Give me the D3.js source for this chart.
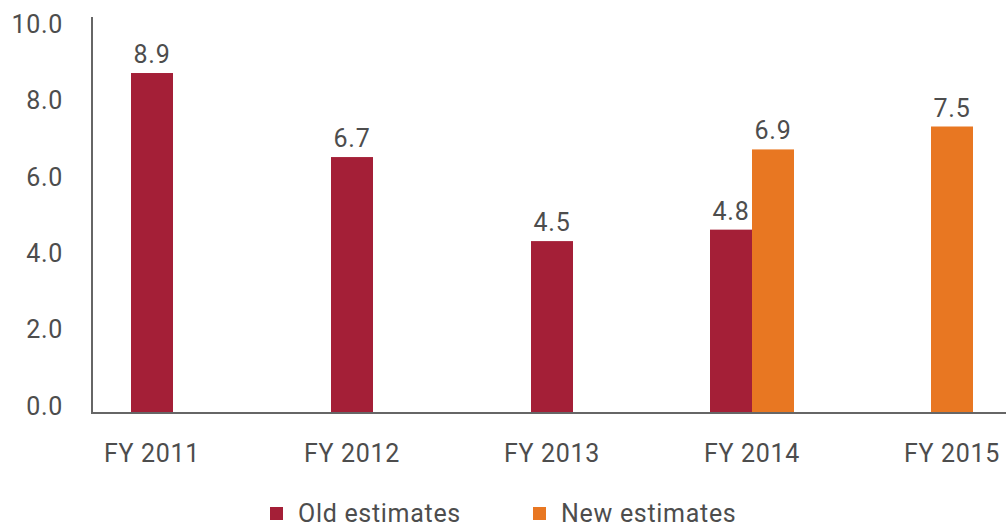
<!DOCTYPE html>
<html>
<head>
<meta charset="utf-8">
<script src="https://cdn.jsdelivr.net/npm/d3@7"></script>
<style>
  html, body { margin: 0; padding: 0; background: #fff; }
  svg { display: block; }
  text { font-family: Roboto, "Liberation Sans", sans-serif; fill: #4d4d4d; letter-spacing: 0.7px; }
</style>
</head>
<body>
<svg id="chart" width="1006" height="529"></svg>
<script>
const categories = ["FY 2011", "FY 2012", "FY 2013", "FY 2014", "FY 2015"];
const seriesNames = ["Old estimates", "New estimates"];
const oldEstimates = [8.9, 6.7, 4.5, 4.8, null];
const newEstimates = [null, null, null, 6.9, 7.5];
const yTicks = [0, 2, 4, 6, 8, 10];
const colors = ["#A41F37", "#E87722"];

const svg = d3.select("#chart");
const axisX = 92, baseY = 413, topY = 17;
const fs = "25px";

const x = d3.scaleBand().domain(categories).range([52, 1052]).padding(0);
const y = d3.scaleLinear().domain([0, 10]).range([baseY, 31]);
const barW = 42;

const series = [oldEstimates, newEstimates];
const bars = [];
categories.forEach((c, i) => {
  const present = series.map((s, k) => ({ k, v: s[i] })).filter(d => d.v != null);
  const cx = x(c) + x.bandwidth() / 2;
  const start = cx - present.length * barW / 2;
  present.forEach((d, j) => bars.push({ cat: c, k: d.k, v: d.v, x0: start + j * barW }));
});

// bars
svg.append("g").selectAll("rect").data(bars).join("rect")
  .attr("x", d => d.x0)
  .attr("y", d => y(d.v))
  .attr("width", barW)
  .attr("height", d => y(0) - y(d.v))
  .attr("fill", d => colors[d.k]);

// value labels
svg.append("g").selectAll("text").data(bars).join("text")
  .attr("x", d => d.x0 + barW / 2)
  .attr("y", d => y(d.v) - 10)
  .attr("text-anchor", "middle")
  .style("font-size", fs)
  .text(d => d.v.toFixed(1));

// axes lines
svg.append("line").attr("x1", axisX).attr("x2", axisX).attr("y1", topY).attr("y2", baseY + 1)
  .attr("stroke", "#666").attr("stroke-width", 2);
svg.append("line").attr("x1", axisX - 1).attr("x2", 1006).attr("y1", baseY).attr("y2", baseY)
  .attr("stroke", "#666").attr("stroke-width", 2);

// y tick labels
svg.append("g").selectAll("text").data(yTicks).join("text")
  .attr("x", 63)
  .attr("y", d => y(d) - 7)
  .attr("dy", "0.35em")
  .attr("text-anchor", "end")
  .style("font-size", fs)
  .text(d => d.toFixed(1));

// x labels
svg.append("g").selectAll("text").data(categories).join("text")
  .attr("x", d => x(d) + x.bandwidth() / 2)
  .attr("y", 462)
  .attr("text-anchor", "middle")
  .style("font-size", fs)
  .text(d => d);

// legend
const legendX = [270, 533];
const lg = svg.append("g").selectAll("g").data(seriesNames).join("g")
  .attr("transform", (d, i) => `translate(${legendX[i]},507)`);
lg.append("rect").attr("width", 13).attr("height", 13).attr("fill", (d, i) => colors[i]);
lg.append("text").attr("x", 28).attr("y", 15).style("font-size", fs).text(d => d);
</script>
</body>
</html>
